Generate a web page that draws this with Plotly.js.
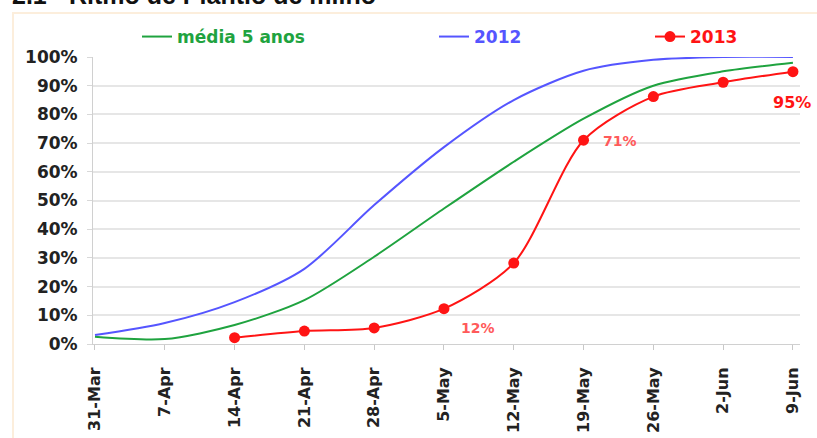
<!DOCTYPE html>
<html>
<head>
<meta charset="utf-8">
<script src="https://cdn.plot.ly/plotly-3.0.1.min.js"></script>
<style>html,body{margin:0;padding:0;background:#fff;}#chart{width:817px;height:438px;}</style>
</head>
<body>
<div id="chart"></div>
<script>
const dates = ['2013-03-31','2013-04-07','2013-04-14','2013-04-21','2013-04-28','2013-05-05','2013-05-12','2013-05-19','2013-05-26','2013-06-02','2013-06-09'];
const media5anos = [0.025,0.017,0.066,0.153,0.304,0.472,0.635,0.785,0.900,0.950,0.980];
const y2012 = [0.031,0.073,0.146,0.262,0.484,0.686,0.850,0.952,0.990,1.000,1.000];
const dates2013 = ['2013-04-14','2013-04-21','2013-04-28','2013-05-05','2013-05-12','2013-05-19','2013-05-26','2013-06-02','2013-06-09'];
const y2013 = [0.022,0.045,0.056,0.123,0.282,0.710,0.862,0.912,0.949];
const seriesNames = ['média 5 anos','2012','2013'];
const labels2013 = [{i:3,text:'12%'},{i:5,text:'71%'},{i:8,text:'95%'}];

const W=817, H=438, L=93, R=800, T=57, B=344;
const px = x => (x - L)/(R - L);
const py = y => (B - y)/(B - T);

const green='#1FA33F', blue='#5555FF', red='#FF1414';

const traces = [
  {x:dates, y:media5anos, name:seriesNames[0], type:'scatter', mode:'lines',
   line:{color:green,width:2,shape:'spline',smoothing:0.8}, legend:'legend'},
  {x:dates, y:y2012, name:seriesNames[1], type:'scatter', mode:'lines',
   line:{color:blue,width:2,shape:'spline',smoothing:0.8}, legend:'legend2'},
  {x:dates2013, y:y2013, name:seriesNames[2], type:'scatter', mode:'lines+markers',
   line:{color:red,width:2,shape:'spline',smoothing:0.8}, marker:{color:red,size:11}, legend:'legend3'}
];

const legFont = (c)=>({family:'DejaVu Sans', size:17, color:c, weight:'bold'});
const legBase = {orientation:'h', yanchor:'middle', xanchor:'left', bgcolor:'rgba(0,0,0,0)', borderwidth:0, y:py(37)};

const annFont = (c,s)=>({family:'DejaVu Sans', size:s, color:c, weight:'bold'});
const annotations = [
  {xref:'paper', yref:'paper', x:px(10), y:py(11), xanchor:'left', yanchor:'bottom', showarrow:false,
   text:'2.1 - Ritmo de Plantio de milho', font:{family:'Liberation Sans', size:25, color:'#111', weight:'bold'}},
  {x:dates2013[labels2013[0].i], y:y2013[labels2013[0].i], text:labels2013[0].text, showarrow:false,
   xshift:34, yshift:-19, font:annFont('#FF5A5A',14)},
  {x:dates2013[labels2013[1].i], y:y2013[labels2013[1].i], text:labels2013[1].text, showarrow:false,
   xshift:36, yshift:-1, font:annFont('#FF5A5A',14)},
  {x:dates2013[labels2013[2].i], y:y2013[labels2013[2].i], text:labels2013[2].text, showarrow:false,
   xshift:-1, yshift:-31, font:annFont('#FF1414',16)}
];

const layout = {
  width:W, height:H,
  margin:{l:L, r:W-R, t:T, b:H-B, pad:0},
  paper_bgcolor:'#ffffff', plot_bgcolor:'#ffffff',
  showlegend:true,
  legend: Object.assign({}, legBase, {x:px(137), font:legFont(green)}),
  legend2: Object.assign({}, legBase, {x:px(434), font:legFont(blue)}),
  legend3: Object.assign({}, legBase, {x:px(650), font:legFont(red)}),
  xaxis:{
    type:'date',
    range:['2013-03-30 19:12','2013-06-09 17:00'],
    tickvals:dates, tickformat:'%-d-%b', tickangle:-90,
    tickfont:{family:'DejaVu Sans', size:16, color:'#222', weight:'bold'},
    ticklabelstandoff:11,
    showgrid:false, showline:true, linecolor:'#D0D0D0', linewidth:1,
    ticks:'outside', ticklen:5, tickcolor:'#C8C8C8', zeroline:false, fixedrange:true
  },
  yaxis:{
    range:[0,1], tickvals:[0,0.1,0.2,0.3,0.4,0.5,0.6,0.7,0.8,0.9,1.0], tickformat:'.0%',
    tickfont:{family:'DejaVu Sans', size:17, color:'#222', weight:'bold'},
    ticklabelstandoff:6,
    showgrid:true, gridcolor:'#E6E6E6', gridwidth:2,
    showline:true, linecolor:'#D0D0D0', linewidth:1,
    ticks:'outside', ticklen:5, tickcolor:'#D8D8D8', zeroline:false, fixedrange:true
  },
  shapes:[
    {type:'rect', xref:'paper', yref:'paper', x0:px(13), x1:px(840), y0:py(13), y1:py(460),
     line:{color:'#FCEEDC', width:2}, fillcolor:'rgba(0,0,0,0)', layer:'below'}
  ],
  annotations: annotations
};

Plotly.newPlot('chart', traces, layout, {displayModeBar:false, staticPlot:true});
</script>
</body>
</html>
